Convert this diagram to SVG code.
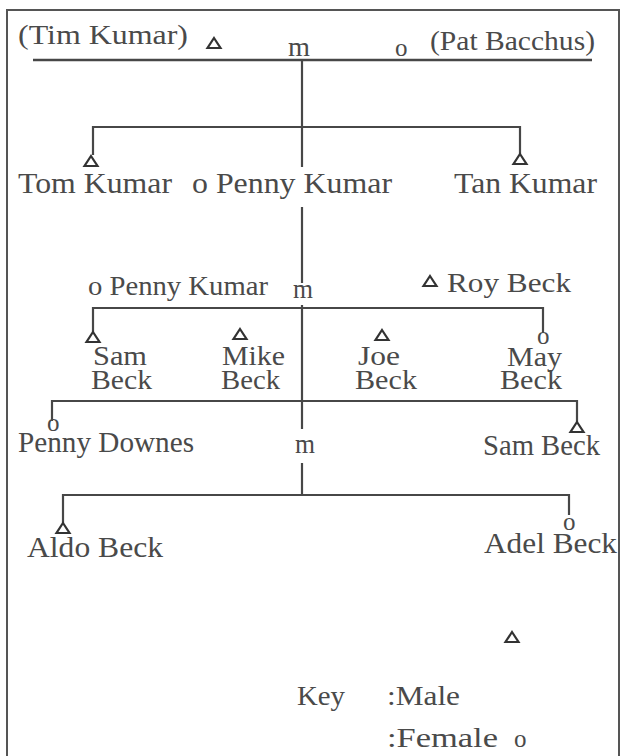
<svg xmlns="http://www.w3.org/2000/svg" width="622" height="756" viewBox="0 0 622 756">
<style>
text{font-family:"Liberation Serif","Times New Roman",serif;font-size:28px;fill:#4a4a4a}
.lg{font-size:29px}
.sm{font-size:27px}
.o{font-size:25px}
.ln{stroke:#474747;stroke-width:2.2;fill:none}
.tri{stroke:#333;stroke-width:2.2;fill:none;stroke-linejoin:miter}
</style>
<defs>
<polygon id="male" points="0,0 6.5,10 -6.5,10" class="tri"/>
</defs>
<rect x="7" y="10" width="612" height="760" fill="#fff" stroke="#555" stroke-width="2"/>
<g id="connectors" class="ln">
<line x1="33" y1="60" x2="592" y2="60" stroke-width="2.6"/>
<line x1="302" y1="60" x2="302" y2="127"/>
<line x1="93" y1="127" x2="520" y2="127"/>
<line x1="93" y1="126" x2="93" y2="155"/>
<line x1="520" y1="126" x2="520" y2="154"/>
<line x1="302" y1="127" x2="302" y2="167"/>
<line x1="302" y1="207" x2="302" y2="283"/>
<line x1="93" y1="308" x2="543" y2="308"/>
<line x1="93" y1="307" x2="93" y2="332"/>
<line x1="543" y1="307" x2="543" y2="333"/>
<line x1="302" y1="305" x2="302" y2="429"/>
<line x1="52" y1="401" x2="577" y2="401"/>
<line x1="52" y1="400" x2="52" y2="421"/>
<line x1="577" y1="400" x2="577" y2="422"/>
<line x1="302" y1="463" x2="302" y2="495"/>
<line x1="63" y1="495" x2="569" y2="495"/>
<line x1="63" y1="494" x2="63" y2="523"/>
<line x1="569" y1="494" x2="569" y2="515"/>
</g>
<g id="tim-kumar">
<text x="18" y="44" textLength="170" lengthAdjust="spacingAndGlyphs" class="sm">(Tim Kumar)</text>
<use href="#male" x="214" y="38"/>
</g>
<g id="marriage-1"><text x="288" y="56" textLength="22" lengthAdjust="spacingAndGlyphs">m</text></g>
<g id="pat-bacchus">
<text x="395" y="56" class="o">o</text>
<text x="430" y="50" textLength="165" lengthAdjust="spacingAndGlyphs">(Pat Bacchus)</text>
</g>
<g id="tom-kumar">
<use href="#male" x="91" y="156"/>
<text x="18" y="193" textLength="154" lengthAdjust="spacingAndGlyphs" class="lg">Tom Kumar</text>
</g>
<g id="penny-kumar-1">
<text x="192" y="193" textLength="200" lengthAdjust="spacingAndGlyphs" class="lg">o Penny Kumar</text>
</g>
<g id="tan-kumar">
<use href="#male" x="520" y="154"/>
<text x="454" y="193" textLength="143" lengthAdjust="spacingAndGlyphs" class="lg">Tan Kumar</text>
</g>
<g id="penny-kumar-2">
<text x="88" y="295" textLength="180" lengthAdjust="spacingAndGlyphs" class="sm">o Penny Kumar</text>
</g>
<g id="marriage-2"><text x="293" y="298" textLength="20" lengthAdjust="spacingAndGlyphs" class="sm">m</text></g>
<g id="roy-beck">
<use href="#male" x="430" y="276"/>
<text x="447" y="292" textLength="124" lengthAdjust="spacingAndGlyphs">Roy Beck</text>
</g>
<g id="sam-beck-1">
<use href="#male" x="93" y="332"/>
<text x="93" y="365" textLength="54" lengthAdjust="spacingAndGlyphs" class="sm">Sam</text>
<text x="91" y="389" textLength="61" lengthAdjust="spacingAndGlyphs" class="sm">Beck</text>
</g>
<g id="mike-beck">
<use href="#male" x="240" y="329"/>
<text x="222" y="365" textLength="63" lengthAdjust="spacingAndGlyphs" class="sm">Mike</text>
<text x="221" y="389" textLength="59" lengthAdjust="spacingAndGlyphs" class="sm">Beck</text>
</g>
<g id="joe-beck">
<use href="#male" x="382" y="330"/>
<text x="358" y="365" textLength="42" lengthAdjust="spacingAndGlyphs" class="sm">Joe</text>
<text x="355" y="389" textLength="62" lengthAdjust="spacingAndGlyphs" class="sm">Beck</text>
</g>
<g id="may-beck">
<text x="537" y="344" class="o">o</text>
<text x="507" y="366" textLength="55" lengthAdjust="spacingAndGlyphs" class="sm">May</text>
<text x="500" y="389" textLength="62" lengthAdjust="spacingAndGlyphs" class="sm">Beck</text>
</g>
<g id="penny-downes">
<text x="47" y="431" class="o">o</text>
<text x="18" y="452" textLength="176" lengthAdjust="spacingAndGlyphs" class="lg">Penny Downes</text>
</g>
<g id="marriage-3"><text x="295" y="453" textLength="20" lengthAdjust="spacingAndGlyphs">m</text></g>
<g id="sam-beck-2">
<use href="#male" x="577" y="422"/>
<text x="483" y="455" textLength="117" lengthAdjust="spacingAndGlyphs" class="lg">Sam Beck</text>
</g>
<g id="aldo-beck">
<use href="#male" x="63" y="523"/>
<text x="27" y="557" textLength="136" lengthAdjust="spacingAndGlyphs" class="lg">Aldo Beck</text>
</g>
<g id="adel-beck">
<text x="563" y="530" class="o">o</text>
<text x="484" y="553" textLength="133" lengthAdjust="spacingAndGlyphs" class="lg">Adel Beck</text>
</g>
<g id="key">
<use href="#male" x="512" y="632"/>
<text x="297" y="705" textLength="48" lengthAdjust="spacingAndGlyphs">Key</text>
<text x="387" y="705" textLength="73" lengthAdjust="spacingAndGlyphs">:Male</text>
<text x="387" y="747" textLength="111" lengthAdjust="spacingAndGlyphs">:Female</text>
<text x="514" y="747" class="o">o</text>
</g>
</svg>
